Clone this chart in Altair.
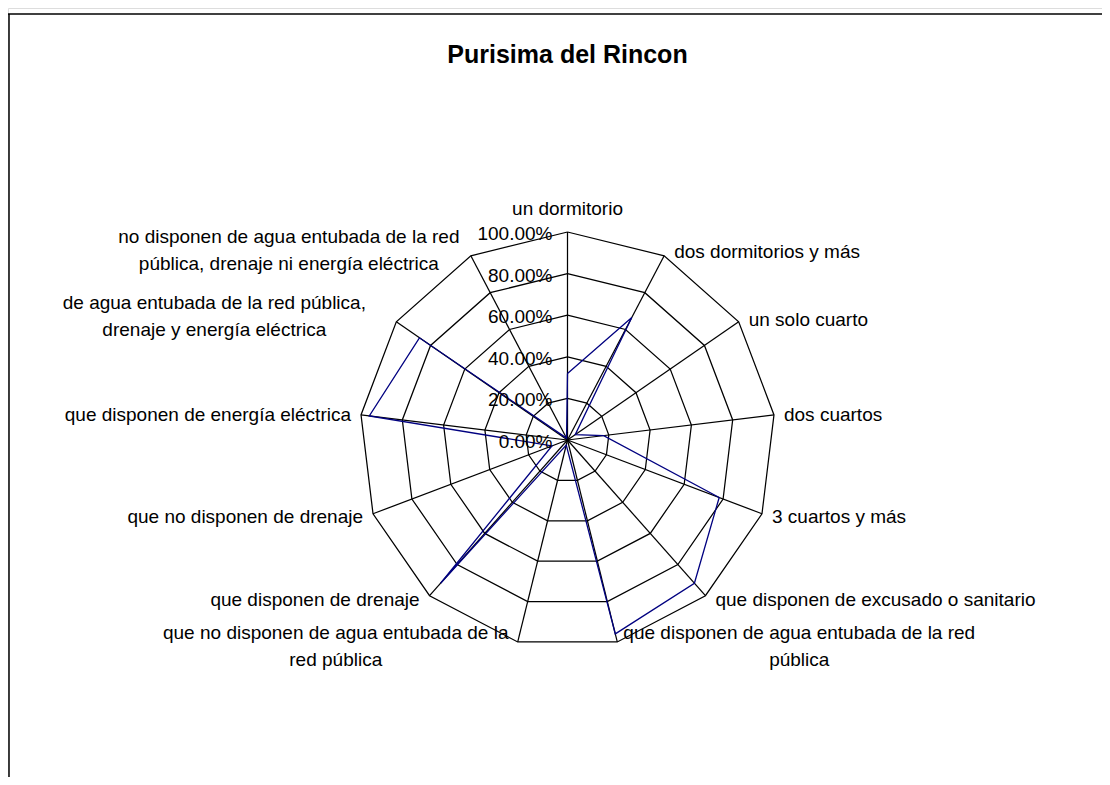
import altair as alt
import pandas as pd

# ---------------- data ----------------
title_text = "Purisima del Rincon"
categories = [
    "un dormitorio",
    "dos dormitorios y más",
    "un solo cuarto",
    "dos cuartos",
    "3 cuartos y más",
    "que disponen de excusado o sanitario",
    "que disponen de agua entubada de la red\npública",
    "que no disponen de agua entubada de la\nred pública",
    "que disponen de drenaje",
    "que no disponen de drenaje",
    "que disponen de energía eléctrica",
    "de agua entubada de la red pública,\ndrenaje y energía eléctrica",
    "no disponen de agua entubada de la red\npública, drenaje ni energía eléctrica",
]
values = [32.0, 66.5, 4.5, 17.5, 78.0, 92.0, 96.0, 2.5, 92.0, 8.0, 96.0, 86.5, 1.0]
grid_levels = [20, 40, 60, 80, 100]
tick_levels = [0, 20, 40, 60, 80, 100]

# ---------------- layout / style ----------------
W, H = 1094, 769
R_PX = 208.0            # pixels for 100 %
CX, CY = 559.5, 432.0   # centre of the radar inside the view (pixels)
PX = 1.0 / R_PX         # one pixel in data units
XDOM = [-CX / R_PX, (W - CX) / R_PX]
YDOM = [-(H - CY) / R_PX, CY / R_PX]
FONT = "Liberation Sans"
FS = 19
LH = 27
N = len(categories)

xs = alt.Scale(domain=XDOM, nice=False, zero=False)
ys = alt.Scale(domain=YDOM, nice=False, zero=False)

theta = f"2*PI*datum.idx/{N}"

# ---------------- tables ----------------
series_df = pd.DataFrame({
    "idx": list(range(N)) + [N],
    "cat": categories + [categories[0]],
    "value": values + [values[0]],
})
grid_df = pd.DataFrame([{"level": lv, "idx": i} for lv in grid_levels for i in range(N + 1)])
spoke_df = pd.DataFrame({"idx": list(range(N))})
tick_df = pd.DataFrame({"level": tick_levels})
label_df = pd.DataFrame({"idx": list(range(N)), "cat": categories})
title_df = pd.DataFrame({"t": [title_text]})

# grid rings
rings = alt.Chart(grid_df).transform_calculate(
    x=f"datum.level/100*sin({theta})",
    y=f"datum.level/100*cos({theta})",
).mark_line(color="black", strokeWidth=1.25).encode(
    x=alt.X("x:Q", scale=xs, axis=None),
    y=alt.Y("y:Q", scale=ys, axis=None),
    detail="level:N",
    order="idx:Q",
)

# spokes
spokes = alt.Chart(spoke_df).transform_calculate(
    x0="0", y0="0",
    sx=f"sin({theta})", sy=f"cos({theta})",
).mark_rule(color="black", strokeWidth=1.25).encode(
    x=alt.X("x0:Q", scale=xs, axis=None),
    y=alt.Y("y0:Q", scale=ys, axis=None),
    x2="sx:Q",
    y2="sy:Q",
)

# data series
series = alt.Chart(series_df).transform_calculate(
    x=f"datum.value/100*sin({theta})",
    y=f"datum.value/100*cos({theta})",
).mark_line(color="#000080", strokeWidth=1.3).encode(
    x=alt.X("x:Q", scale=xs, axis=None),
    y=alt.Y("y:Q", scale=ys, axis=None),
    order="idx:Q",
)

# radial tick labels
ticks = alt.Chart(tick_df).transform_calculate(
    x0="0", frac="datum.level/100",
).mark_text(align="right", baseline="middle", dx=-15, dy=2,
            font=FONT, fontSize=FS, color="black").encode(
    x=alt.X("x0:Q", scale=xs, axis=None),
    y=alt.Y("frac:Q", scale=ys, axis=None),
    text=alt.Text("frac:Q", format=".2%"),
)

# category labels
lab_base = alt.Chart(label_df).transform_calculate(
    s=f"sin({theta})", c=f"cos({theta})",
    nlines="length(split(datum.cat, '\\n'))",
).transform_calculate(
    side="datum.s > 0.05 ? 1 : (datum.s < -0.05 ? -1 : 0)",
    wrapped="datum.nlines > 1 ? 1 : 0",
).transform_calculate(
    lx=(f"datum.wrapped == 1 ? datum.s + datum.side*182*{PX} : "
        f"datum.s + datum.side*10*{PX}"),
    ly=(f"datum.side == 0 ? datum.c + 23*{PX} : "
        f"(datum.wrapped == 1 ? datum.c + (datum.c > 0 ? 1 : -1)*5*{PX} "
        f"+ (datum.nlines - 1)*{LH / 2}*{PX} : "
        f"datum.c*(1 + 5*{PX}) - 1*{PX})"),
)

def label_layer(filt, align):
    return lab_base.transform_filter(filt).mark_text(
        align=align, baseline="middle", font=FONT, fontSize=FS,
        color="black", lineBreak="\n", lineHeight=LH,
    ).encode(
        x=alt.X("lx:Q", scale=xs, axis=None),
        y=alt.Y("ly:Q", scale=ys, axis=None),
        text="cat:N",
    )

lab_left = label_layer("datum.wrapped == 0 && datum.side == 1", "left")
lab_right = label_layer("datum.wrapped == 0 && datum.side == -1", "right")
lab_center = label_layer("datum.wrapped == 1 || datum.side == 0", "center")

# title
title = alt.Chart(title_df).mark_text(
    font=FONT, fontSize=25, fontWeight="bold", align="center",
    baseline="alphabetic", color="black",
).encode(text="t:N", x=alt.value(CX), y=alt.value(55))

# outer frame (top and left edges visible in the reference)
frame_top = alt.Chart(title_df).mark_rule(color="black", strokeWidth=1.5).encode(
    x=alt.value(0), x2=alt.value(W), y=alt.value(6))
frame_left = alt.Chart(title_df).mark_rule(color="black", strokeWidth=1.5).encode(
    x=alt.value(1), y=alt.value(6), y2=alt.value(H))

chart = alt.layer(
    frame_top, frame_left, rings, spokes, series, ticks,
    lab_left, lab_right, lab_center, title,
).properties(
    width=W, height=H, padding=0,
    autosize=alt.AutoSizeParams(type="none"),
).configure_view(stroke=None).configure(background="white")

chart.save("out.html", embed_options={"renderer": "svg", "actions": False})
